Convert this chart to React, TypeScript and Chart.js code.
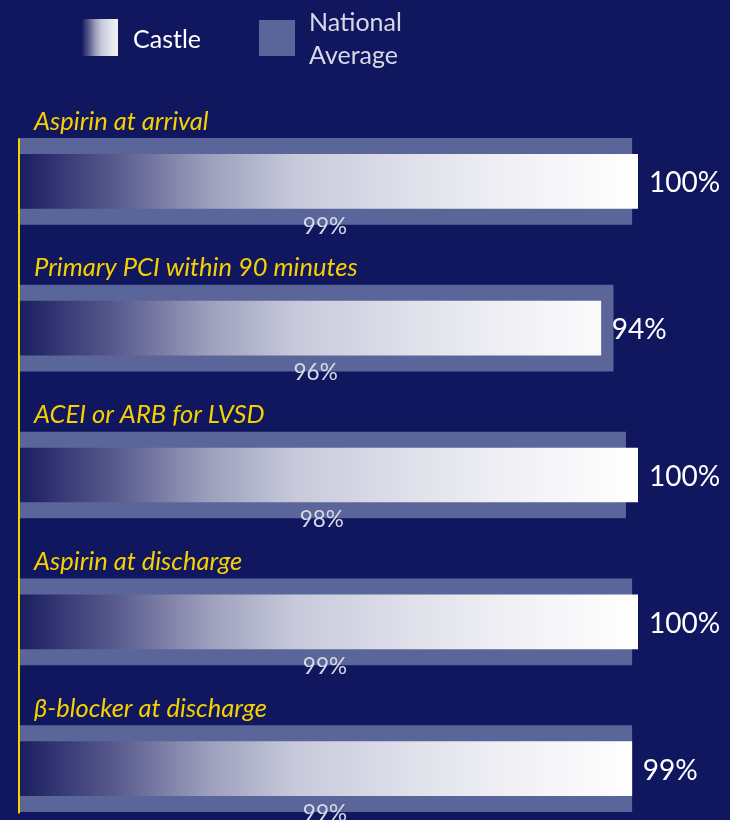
import React, { useEffect, useRef } from 'react';
import { Chart, registerables } from 'chart.js';

Chart.register(...registerables);

const categories = [
  'Aspirin at arrival',
  'Primary PCI within 90 minutes',
  'ACEI or ARB for LVSD',
  'Aspirin at discharge',
  'β-blocker at discharge',
];
const castleValues = [100, 94, 100, 100, 99];
const nationalValues = [99, 96, 98, 99, 99];
const seriesNames = ['Castle', 'National Average'];

const BG = '#11175e';
const NATIONAL = '#5a6699';
const YELLOW = '#f7d000';
const FONT = 'Lato, "Open Sans", sans-serif';

function castleGradient(ctx: CanvasRenderingContext2D, x0: number, x1: number) {
  const g = ctx.createLinearGradient(x0, 0, x1, 0);
  g.addColorStop(0, '#1a1d5e');
  g.addColorStop(0.08, '#3a3d78');
  g.addColorStop(0.16, '#5a5c8e');
  g.addColorStop(0.3, '#9a9cbb');
  g.addColorStop(0.45, '#c8cadb');
  g.addColorStop(0.65, '#e2e2ec');
  g.addColorStop(0.85, '#f5f5f8');
  g.addColorStop(1, '#ffffff');
  return g;
}

const overlayPlugin = {
  id: 'overlay',
  beforeDraw(chart: any) {
    const { ctx, width, height } = chart;
    ctx.save();
    ctx.fillStyle = BG;
    ctx.fillRect(0, 0, width, height);
    ctx.restore();
  },
  afterDatasetsDraw(chart: any) {
    const { ctx, chartArea } = chart;
    const castleMeta = chart.getDatasetMeta(0);
    const natMeta = chart.getDatasetMeta(1);
    ctx.save();
    const firstNat = natMeta.data[0];
    const lastNat = natMeta.data[natMeta.data.length - 1];
    ctx.strokeStyle = YELLOW;
    ctx.lineWidth = 2;
    ctx.beginPath();
    ctx.moveTo(chartArea.left + 1, firstNat.y - firstNat.height / 2);
    ctx.lineTo(chartArea.left + 1, lastNat.y + lastNat.height / 2 + 2);
    ctx.stroke();

    categories.forEach((cat, i) => {
      const c = castleMeta.data[i];
      const n = natMeta.data[i];
      ctx.fillStyle = YELLOW;
      ctx.font = `italic 25.5px ${FONT}`;
      ctx.textAlign = 'left';
      ctx.textBaseline = 'middle';
      ctx.fillText(cat, chartArea.left + 16, c.y - 60);
      ctx.fillStyle = '#ffffff';
      ctx.font = `28px ${FONT}`;
      ctx.fillText(castleValues[i] + '%', c.x + 11, c.y + 2);
      ctx.fillStyle = '#d8d9e8';
      ctx.font = `22.5px ${FONT}`;
      ctx.textAlign = 'center';
      ctx.fillText(nationalValues[i] + '%', (n.base + n.x) / 2, n.y + 45);
    });

    ctx.fillStyle = castleGradient(ctx, 82, 118 + 8);
    ctx.fillRect(82, 19, 36, 37);
    ctx.fillStyle = '#ffffff';
    ctx.font = `25px ${FONT}`;
    ctx.textAlign = 'left';
    ctx.textBaseline = 'middle';
    ctx.fillText(seriesNames[0], 133, 40);
    ctx.fillStyle = NATIONAL;
    ctx.fillRect(259, 20, 36, 36);
    ctx.fillStyle = '#d8d9e8';
    const parts = seriesNames[1].split(' ');
    ctx.fillText(parts[0], 309, 23);
    ctx.fillText(parts[1], 309, 56);
    ctx.restore();
  },
};

export default function App() {
  const ref = useRef<HTMLCanvasElement>(null);
  useEffect(() => {
    if (!ref.current) return;
    const chart = new Chart(ref.current, {
      type: 'bar',
      data: {
        labels: categories,
        datasets: [
          {
            label: seriesNames[0],
            data: castleValues,
            barThickness: 54,
            grouped: false,
            backgroundColor: (c: any) => {
              const area = c.chart.chartArea;
              if (!area) return '#ffffff';
              return castleGradient(c.chart.ctx, area.left, area.right);
            },
            borderWidth: 0,
          },
          {
            label: seriesNames[1],
            data: nationalValues,
            barThickness: 86,
            grouped: false,
            backgroundColor: NATIONAL,
            borderWidth: 0,
          },
        ],
      },
      options: {
        indexAxis: 'y',
        animation: false,
        responsive: false,
        events: [],
        layout: { padding: { top: 108, left: 18, right: 92, bottom: 0 } },
        plugins: { legend: { display: false }, tooltip: { enabled: false } },
        scales: {
          x: { display: false, min: 0, max: 100 },
          y: { display: false, offset: true },
        },
      },
      plugins: [overlayPlugin],
    } as any);
    return () => chart.destroy();
  }, []);
  return (
    <div
      style={{
        position: 'fixed',
        top: 0,
        left: 0,
        width: 730,
        height: 820,
        overflow: 'hidden',
        background: BG,
      }}
    >
      <canvas ref={ref} width={730} height={842} style={{ display: 'block' }} />
    </div>
  );
}
